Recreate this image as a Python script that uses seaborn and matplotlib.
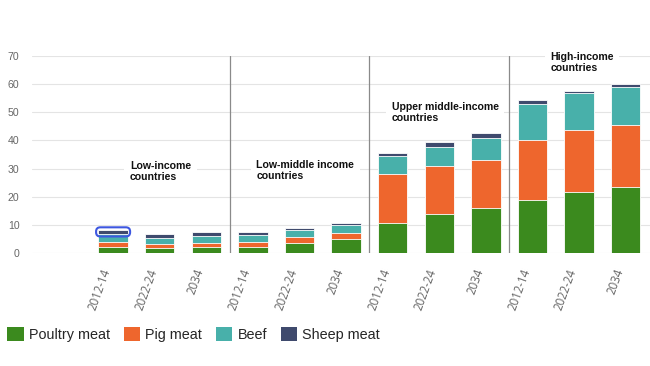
import numpy as np
import pandas as pd
import seaborn as sns
import matplotlib
matplotlib.use("Agg")
import matplotlib.pyplot as plt
from matplotlib.patches import Patch, FancyBboxPatch

# dados (kg per capita, aproximado)
grupos = ['Low-income\ncountries', 'Low-middle income\ncountries',
          'Upper middle-income\ncountries', 'High-income\ncountries']
periodos = ['2012-14', '2022-24', '2034']

aves = [2.3, 1.8, 2.3, 2.3, 3.5, 5.0, 10.8, 13.8, 15.9, 18.7, 21.8, 23.6]
suinos = [1.7, 1.3, 1.2, 1.7, 2.1, 2.1, 17.1, 17.2, 17.3, 21.4, 22.0, 22.0]
bovinos = [2.7, 2.3, 2.6, 2.5, 2.4, 2.9, 6.6, 6.8, 7.8, 13.0, 13.0, 13.5]
ovinos = [1.6, 1.3, 1.5, 0.9, 0.8, 0.7, 1.2, 1.8, 1.8, 1.1, 0.9, 0.8]

series = ['Poultry meat', 'Pig meat', 'Beef', 'Sheep meat']
cores = ['#3b8a1e', '#ee662d', '#48b0aa', '#3f4a6d']

slots = [f'{g}|{p}' for g in grupos for p in periodos]
df = pd.DataFrame({'slot': slots, 'Poultry meat': aves, 'Pig meat': suinos,
                   'Beef': bovinos, 'Sheep meat': ovinos})
acum = df[series].cumsum(axis=1)
acum['slot'] = df['slot']

sns.set_style('white')
plt.rcParams['font.family'] = ['Liberation Sans', 'DejaVu Sans']

fig = plt.figure(figsize=(6.5, 3.66), dpi=100)
ax = fig.add_axes([32 / 650, 1 - 253 / 366, 1 - 32 / 650, (253 - 56) / 366])

# empilhado: desenha do acumulado maior para o menor
for nome, cor in reversed(list(zip(series, cores))):
    sns.barplot(data=acum, x='slot', y=nome, color=cor, saturation=1,
                width=0.63, edgecolor='white', linewidth=0.6, ax=ax, zorder=3)

ax.set_xlim(-1.74, 11.52)
ax.set_ylim(0, 70)
ax.set_yticks(range(0, 71, 10))
ax.grid(axis='y', color='#e4e4e4', linewidth=0.8, zorder=0)
ax.set_axisbelow(True)
for s in ax.spines.values():
    s.set_visible(False)
ax.set_xlabel('')
ax.set_ylabel('')
ax.tick_params(axis='y', length=0, pad=9, labelsize=7.6, labelcolor='#666666')
ax.set_xticks(range(len(slots)))
ax.set_xticklabels(periodos * len(grupos), rotation=70, ha='right',
                   fontsize=8.3, color='#666666', family=['Open Sans', 'DejaVu Sans'])
ax.tick_params(axis='x', length=0, pad=10)

# separadores entre grupos
for k in range(1, len(grupos)):
    ax.axvline(3 * k - 0.5, color='#8a8a8a', linewidth=0.9, zorder=2)

# rótulos dos grupos
pos_txt = [(0.36, 32.8), (3.07, 33.0), (5.98, 53.6), (9.38, 71.4)]
for g, (xt, yt) in zip(grupos, pos_txt):
    ax.text(xt, yt, g, ha='left', va='top', fontsize=7.6, fontweight='bold',
            linespacing=1.15, color='#111111', zorder=4, clip_on=False,
            bbox=dict(facecolor='white', edgecolor='none', pad=4))

# destaque do primeiro segmento (hover)
base = acum['Beef'][0]
destaque = FancyBboxPatch((0 - 0.315, base), 0.63, ovinos[0],
                          boxstyle='round,pad=0.05,rounding_size=0.09',
                          mutation_aspect=16.5, facecolor='none',
                          edgecolor='#3d57e0', linewidth=1.5, zorder=5)
ax.add_patch(destaque)

handles = [Patch(facecolor=c, edgecolor='none', label=n) for n, c in zip(series, cores)]
fig.legend(handles=handles, loc='lower left', bbox_to_anchor=(7 / 650, 24 / 366),
           ncol=4, frameon=False, fontsize=10.4, handlelength=1.15, handleheight=1.15,
           handletextpad=0.35, columnspacing=0.95, borderpad=0, borderaxespad=0)

fig.savefig('out.png', dpi=100)
